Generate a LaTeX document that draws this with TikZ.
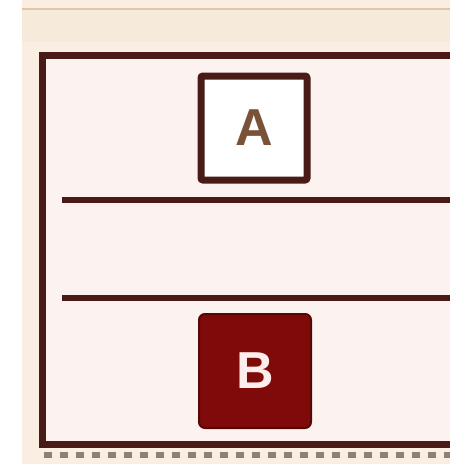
\documentclass[tikz,border=0pt]{standalone}
\usepackage{fontspec}
\setmainfont{Liberation Sans}
\usetikzlibrary{positioning}
\definecolor{framebrown}{HTML}{4A1A16}
\definecolor{boxred}{HTML}{7E0A0A}
\definecolor{paper}{HTML}{FCF3F1}
\definecolor{cream}{HTML}{FAEEE2}
\definecolor{band}{HTML}{F6EADB}
\definecolor{letterbrown}{HTML}{7A5238}

\begin{document}
\begin{tikzpicture}[
  x=1pt, y=-1pt,
  frame/.style={draw=framebrown, line width=7pt},
  letterbox/.style={minimum width=106pt, minimum height=104pt, font=\bfseries\fontsize{52}{52}\selectfont, inner sep=0pt}
]
\useasboundingbox (0,0) rectangle (450,464);
% backgrounds
\fill[white] (0,0) rectangle (450,464);
\fill[cream] (22,0) rectangle (450,464);
\fill[band] (22,10) rectangle (450,42);
\draw[draw=brown!45, line width=2pt] (22,9) -- (450,9);
\fill[paper] (42,55) rectangle (450,444);
% outer frame, open on the right
\draw[frame] (450,55) -- (42,55) -- (42,444) -- (450,444);
% dividers
\draw[frame, line width=6pt] (62,200) -- (450,200);
\draw[frame, line width=6pt] (62,298) -- (450,298);
% boxes
\node[letterbox, draw=framebrown, line width=7pt, fill=white, text=letterbrown, rounded corners=2pt] (boxA) at (254,128) {A};
\node[letterbox, minimum width=112pt, minimum height=114pt, fill=boxred, draw=boxred!70!black, line width=2pt, text=pink!30, rounded corners=6pt] (boxB) at (255,371) {B};
% dashed bottom strip
\draw[gray!80!brown, line width=6pt, dash pattern=on 8pt off 8pt] (44,455) -- (450,455);
\end{tikzpicture}
\end{document}
